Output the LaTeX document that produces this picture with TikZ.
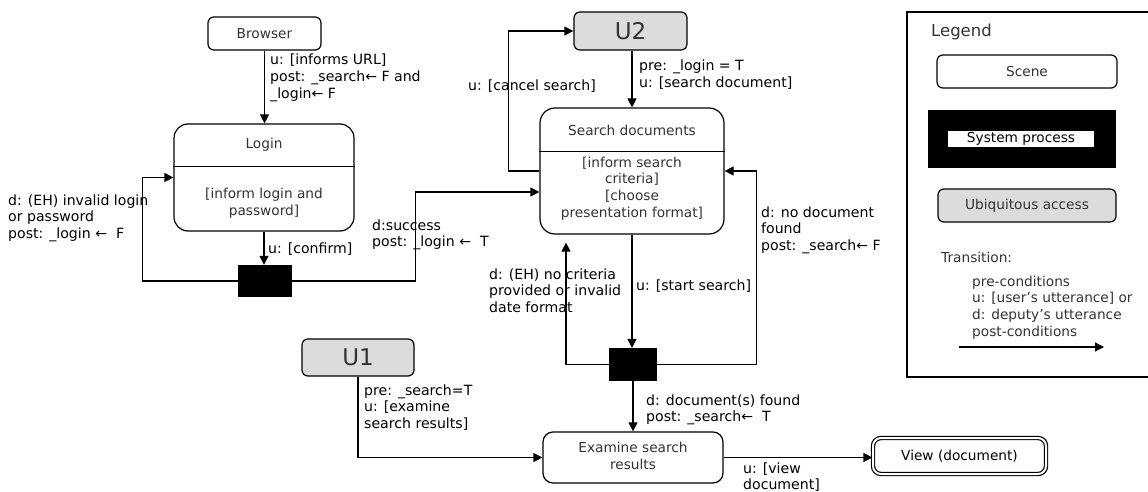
\documentclass[tikz,border=0pt]{standalone}
\usepackage{fontspec}
\setmainfont{DejaVu Sans}
\usetikzlibrary{arrows.meta,calc}
\definecolor{ubiq}{HTML}{DCDCDC}
\definecolor{ntext}{HTML}{333333}
\newcommand{\mylines}[1]{\begin{tabular}[t]{@{}l@{}}#1\end{tabular}}
\newcommand{\mycent}[1]{\begin{tabular}{@{}c@{}}#1\end{tabular}}
\begin{document}
\begin{tikzpicture}[x=1pt,y=-1pt,
  txtfont/.style={font=\fontsize{13.7}{16.7}\selectfont},
  lblfont/.style={font=\fontsize{14.1}{16.7}\selectfont},
  box/.style={draw, line width=1.2pt, rounded corners=6pt, txtfont, text=ntext, inner sep=0pt},
  ntxt/.style={txtfont, text=ntext, inner sep=0pt},
  sysproc/.style={fill=black, inner sep=0pt},
  arr/.style={line width=1.2pt, -{Triangle[length=9pt,width=9pt]}},
  lbl/.style={anchor=base west, inner sep=0pt, lblfont, text=black},
  bigu/.style={font=\fontsize{23}{27}\selectfont}
]
\useasboundingbox (0,0) rectangle (1148,492);

% scenes
\node[box, minimum width=113, minimum height=33] (browser) at (264.5,33.5) {Browser};
\node[box, rounded corners=14pt, minimum width=180, minimum height=107] (login) at (264,177.5) {};
\draw[line width=1.2pt] ($(login.north west)+(0,43)$) -- ($(login.north east)+(0,43)$);
\node[ntxt] (logintitle) at (264,145) {Login};
\node[ntxt] (loginbody) at (264,203.5) {\mycent{[inform login and\\password]}};

\node[box, rounded corners=15pt, minimum width=184, minimum height=126] (search) at (632,171) {};
\draw[line width=1.2pt] ($(search.north west)+(0,44)$) -- ($(search.north east)+(0,44)$);
\node[ntxt] (searchtitle) at (632,130) {Search documents};
\node[ntxt] (searchbody) at (632,189) {\mycent{[inform search\\criteria]\\\relax[choose\\presentation format]}};

\node[box, rounded corners=10pt, minimum width=180, minimum height=51] (examine) at (633,457.5) {\mycent{Examine search\\results}};
\node[box, double, double distance=2pt, rounded corners=8pt, minimum width=173, minimum height=36, text=black] (view) at (959.5,456) {View (document)};

% ubiquitous access
\node[box, bigu, fill=ubiq, minimum width=112, minimum height=37] (u1) at (358,357.5) {U1};
\node[box, bigu, fill=ubiq, minimum width=113, minimum height=38] (u2) at (630.5,31) {U2};

% system processes
\node[sysproc, minimum width=54, minimum height=32] (sp1) at (265,281) {};
\node[sysproc, minimum width=48, minimum height=33] (sp2) at (633,364.5) {};

% transitions
\draw[arr] (browser.south) -- (browser.south |- login.north);
\draw[arr] (login.south) -- (login.south |- sp1.north);
\draw[arr] (sp1.west) -| ($(login.west)+(-31,0)$) -- (login.west);
\draw[arr] (sp1.east) -| ($(search.west)+(-124,21)$) -- ($(search.west)+(0,21)$);
\draw[arr] (search.west) -| ($(u2.west)+(-65,0)$) -- (u2.west);
\draw[arr] (u2.south -| search.north) -- (search.north);
\draw[arr] (search.south) -- (search.south |- sp2.north);
\draw[arr] (sp2.west) -| ($(search.south)+(-66,8)$);
\draw[arr] (sp2.east) -| ($(search.east)+(32,0)$) -- (search.east);
\draw[arr] (sp2.south) -- (sp2.south |- examine.north);
\draw[arr] (u1.south) |- (examine.west);
\draw[arr] (examine.east) -- (examine.east -| view.west);

% labels
\node[lbl] (l1) at (270,65) {\mylines{u: [informs URL]\\post: \_search← F and\\\_login← F}};
\node[lbl] (l2) at (268,253) {u: [confirm]};
\node[lbl] (l3) at (8,205) {\mylines{d: (EH) invalid login\\or password\\post: \_login ←\ \ F}};
\node[lbl] (l4) at (372,230) {\mylines{d:success\\post: \_login ←\ \ T}};
\node[lbl] (l5) at (468,91) {u: [cancel search]};
\node[lbl] (l6) at (639,71) {\mylines{pre: \_login = T\\u: [search document]}};
\node[lbl] (l7) at (761,217) {\mylines{d: no document\\found\\post: \_search← F}};
\node[lbl] (l8) at (636,290) {u: [start search]};
\node[lbl] (l9) at (489,279) {\mylines{d: (EH) no criteria\\provided or invalid\\date format}};
\node[lbl] (l10) at (646,405) {\mylines{d: document(s) found\\post: \_search←\ \ T}};
\node[lbl] (l11) at (364,395) {\mylines{pre: \_search=T\\u: [examine\\search results]}};
\node[lbl] (l12) at (743,473) {\mylines{u: [view\\document]}};

% legend
\draw[line width=1.2pt] (907,12) rectangle (1160,377);
\node[anchor=base west, inner sep=0pt, font=\fontsize{16.5}{20}\selectfont, text=ntext] (legendtitle) at (931,37) {Legend};
\node[box, minimum width=180, minimum height=33] (lscene) at (1027,71.5) {Scene};
\node[sysproc, minimum width=188, minimum height=58] (lsys) at (1022,139) {};
\node[fill=white, inner sep=0pt, minimum width=146, minimum height=16, txtfont, text=black] (lsystext) at (1021,139) {System process};
\node[box, fill=ubiq, minimum width=178, minimum height=33] (lubiq) at (1027,205.5) {Ubiquitous access};
\node[lbl, txtfont, text=ntext] (ltrans) at (941,262) {Transition:};
\node[lbl, txtfont, text=ntext] (lconds) at (972,286) {\mylines{pre-conditions\\u: [user’s utterance] or\\d: deputy’s utterance\\post-conditions}};
\coordinate (la) at (959,347);
\coordinate (lb) at (1104,347);
\draw[arr] (la) -- (lb);
\end{tikzpicture}
\end{document}
